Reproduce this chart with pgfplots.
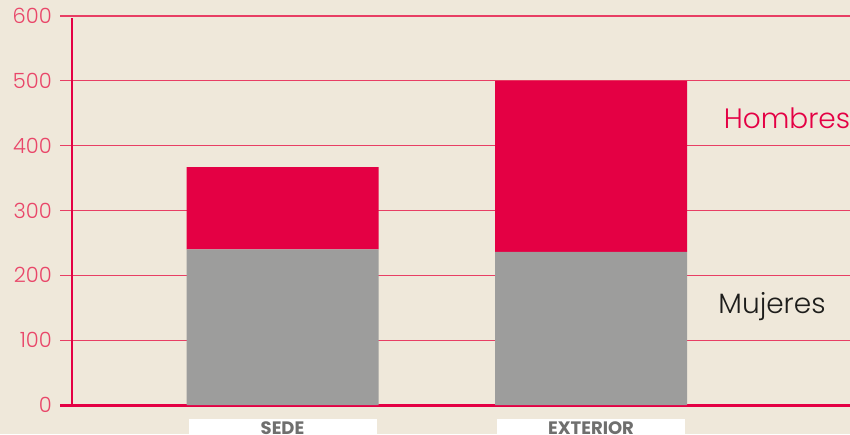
\documentclass[border=0pt]{standalone}
\usepackage{fontspec}
\setmainfont{Poppins}[UprightFont=* Light, BoldFont=* Bold]
\usepackage{pgfplots}
\pgfplotsset{compat=1.18}

\definecolor{bg}{RGB}{239,232,218}
\definecolor{rojo}{RGB}{228,0,68}
\definecolor{gris}{RGB}{157,157,156}
\definecolor{rejilla}{RGB}{232,62,100}
\definecolor{ticktxt}{RGB}{233,70,105}
\definecolor{labtxt}{RGB}{111,111,110}
\definecolor{negro}{RGB}{29,29,27}

\begin{document}
\begin{tikzpicture}[x=1pt,y=1pt]
\fill[bg] (0,0) rectangle (850,434);
\begin{axis}[
    at={(60pt,29pt)}, anchor=south west,
    scale only axis,
    width=790pt, height=389pt,
    xmin=-0.7212, xmax=1.8395,
    ymin=0, ymax=600,
    ybar stacked,
    bar width=192pt,
    axis line style={draw=none},
    major tick length=0pt,
    ytick={0,100,...,600},
    ymajorgrids, xmajorgrids=false,
    grid style={draw=rejilla, line width=1.2pt},
    /pgf/number format/assume math mode=true,
    yticklabel style={anchor=east, inner sep=0pt, xshift=-8pt,
        text=ticktxt, font=\fontsize{21}{21}\selectfont},
    xtick={0,1},
    xticklabels={SEDE,EXTERIOR},
    xticklabel style={anchor=north, yshift=-14pt, fill=white,
        text=labtxt, font=\fontsize{18}{18}\selectfont\bfseries,
        minimum width=188pt, inner ysep=2pt, text height=13pt, text depth=8pt},
    clip=false,
]
\addplot[fill=gris, draw=none] coordinates {(0,240) (1,236)};
\addplot[fill=rojo, draw=none] coordinates {(0,127) (1,264)};
\draw[rojo, line width=3pt] (rel axis cs:0,0) -- (rel axis cs:1,0);
\draw[rojo, line width=1.3pt] (axis cs:-0.6824,0) -- (axis cs:-0.6824,597);
\end{axis}
\node[text=rojo, font=\fontsize{28}{28}\selectfont] at (787,316) {Hombres};
\node[text=negro, font=\fontsize{28}{28}\selectfont] at (772,127) {Mujeres};
\pgfresetboundingbox
\useasboundingbox (0,0) rectangle (850,434);
\end{tikzpicture}
\end{document}
